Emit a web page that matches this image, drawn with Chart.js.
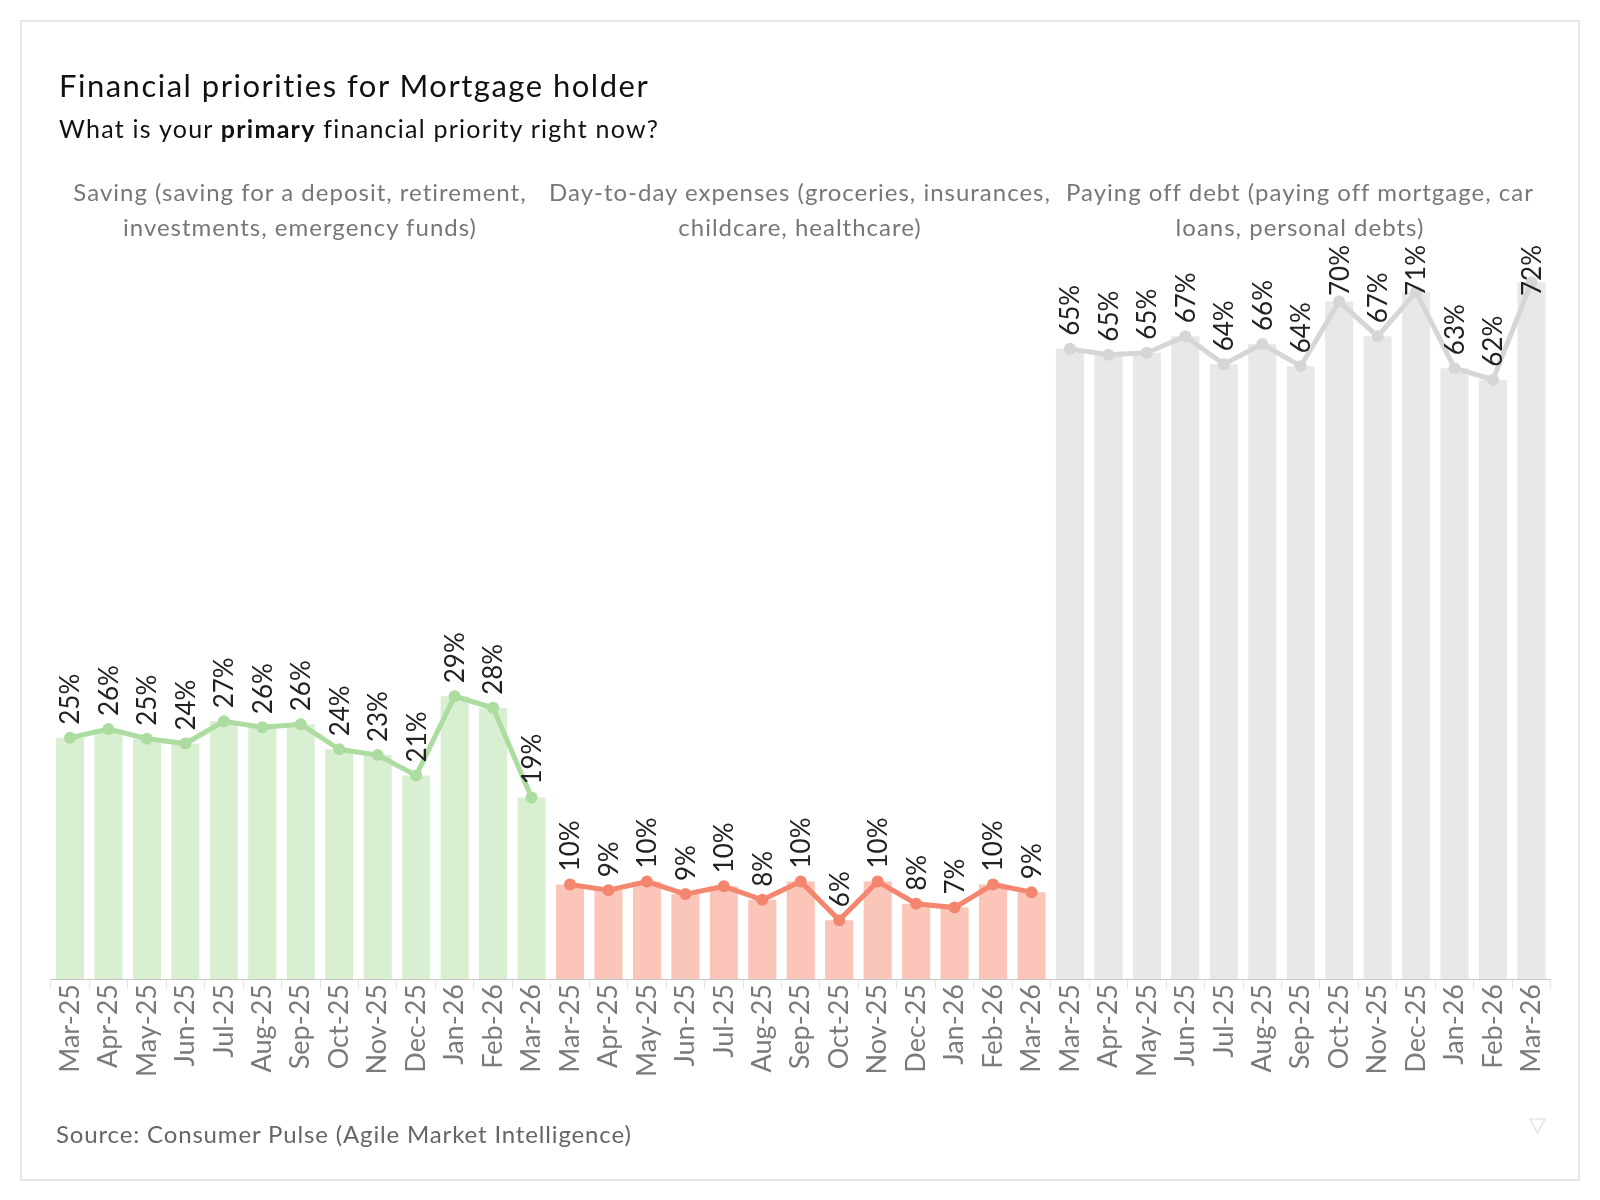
<!DOCTYPE html>
<html>
<head>
<meta charset="utf-8">
<script src="https://cdn.jsdelivr.net/npm/chart.js@4.4.1/dist/chart.umd.min.js"></script>
<style>
  html, body { margin: 0; padding: 0; background: #fff; }
  #page { position: relative; width: 1600px; height: 1200px; overflow: hidden; font-family: Lato, "Open Sans", sans-serif; }
  #frame { position: absolute; left: 20px; top: 20px; width: 1556px; height: 1157px; border: 2px solid #e6e6e6; }
  #chart-canvas { position: absolute; left: 0; top: 0; }
  .txt { position: absolute; white-space: nowrap; line-height: 1.2; }
  #title { left: 59px; top: 67px; font-size: 31px; letter-spacing: 1.5px; color: #111; }
  #subtitle { left: 59px; top: 113px; font-size: 25px; letter-spacing: 1.25px; color: #111; }
  #subtitle b { font-weight: 700; }
  .panel-head { position: absolute; top: 174px; width: 540px; text-align: center; white-space: nowrap; font-size: 24px; letter-spacing: 1px; line-height: 35px; color: #777; }
  #source { left: 56px; top: 1120px; font-size: 24px; letter-spacing: 0.85px; color: #666; }
  #tri { position: absolute; left: 1529px; top: 1118px; }
</style>
</head>
<body>
<div id="page">
  <div id="frame"></div>
  <canvas id="chart-canvas" width="1600" height="1200"></canvas>
  <div class="txt" id="title">Financial priorities for Mortgage holder</div>
  <div class="txt" id="subtitle">What is your <b>primary</b> financial priority right now?</div>
  <div class="panel-head" style="left:30px">Saving (saving for a deposit, retirement,<br>investments, emergency funds)</div>
  <div class="panel-head" style="left:530px">Day-to-day expenses (groceries, insurances,<br>childcare, healthcare)</div>
  <div class="panel-head" style="left:1030px">Paying off debt (paying off mortgage, car<br>loans, personal debts)</div>
  <div class="txt" id="source">Source: Consumer Pulse (Agile Market Intelligence)</div>
  <svg id="tri" width="17" height="16"><polygon points="1,1 16,1 8.5,15" fill="none" stroke="#dcdcdc" stroke-width="1.2"/></svg>
</div>
<script>
// Months shown in every panel
const months = ['Mar-25', 'Apr-25', 'May-25', 'Jun-25', 'Jul-25', 'Aug-25', 'Sep-25',
                'Oct-25', 'Nov-25', 'Dec-25', 'Jan-26', 'Feb-26', 'Mar-26'];

// Share of mortgage holders (%) per priority
const saving   = [25.0, 25.9, 24.9, 24.4, 26.7, 26.1, 26.4, 23.8, 23.2, 21.1, 29.3, 28.1, 18.8];
const expenses = [9.8, 9.2, 10.1, 8.8, 9.6, 8.2, 10.1, 6.1, 10.1, 7.8, 7.4, 9.8, 9.0];
const debt     = [65.3, 64.7, 64.9, 66.6, 63.7, 65.8, 63.5, 70.2, 66.6, 71.2, 63.3, 62.1, 72.2];

const series     = [saving, expenses, debt];
const barColors  = ['#d9efd2', '#fbc5b9', '#e8e8e8'];
const lineColors = ['#acdc9f', '#f4866f', '#d6d6d6'];

// Build the 39 categories (3 panels x 13 months)
let labels = [];
let barData = [];
let barBg = [];
for (let p = 0; p < series.length; p++) {
    for (let i = 0; i < months.length; i++) {
        labels.push(months[i]);
        barData.push(series[p][i]);
        barBg.push(barColors[p]);
    }
}

// One line per panel, null outside its panel so the line breaks
let datasets = [];
for (let p = 0; p < series.length; p++) {
    let d = [];
    for (let q = 0; q < series.length; q++) {
        for (let i = 0; i < months.length; i++) {
            d.push(q == p ? series[p][i] : null);
        }
    }
    datasets.push({
        type: 'line',
        data: d,
        borderColor: lineColors[p],
        backgroundColor: lineColors[p],
        borderWidth: 5,
        pointRadius: 6,
        pointHoverRadius: 6,
        pointBorderWidth: 0,
        spanGaps: false,
        tension: 0,
        order: 0
    });
}
datasets.push({
    type: 'bar',
    data: barData,
    backgroundColor: barBg,
    barPercentage: 0.73,
    categoryPercentage: 1.0,
    order: 1
});

// Rotated value labels above each point (kept below the panel headers)
const labelTopLimit = 245;
const valueLabels = {
    id: 'valueLabels',
    afterDatasetsDraw(chart) {
        const ctx = chart.ctx;
        ctx.save();
        ctx.font = '26px Lato';
        ctx.fillStyle = '#222';
        ctx.textAlign = 'left';
        ctx.textBaseline = 'middle';
        for (let p = 0; p < series.length; p++) {
            const meta = chart.getDatasetMeta(p);
            meta.data.forEach((pt, idx) => {
                const v = chart.data.datasets[p].data[idx];
                if (v === null) return;
                const text = Math.round(v) + '%';
                const w = ctx.measureText(text).width;
                let start = pt.y - 13;
                if (start - w < labelTopLimit) start = labelTopLimit + w;
                ctx.save();
                ctx.translate(pt.x, start);
                ctx.rotate(-Math.PI / 2);
                ctx.fillText(text, 0, 1);
                ctx.restore();
            });
        }
        ctx.restore();
    }
};

const ctx = document.getElementById('chart-canvas');
new Chart(ctx, {
    type: 'bar',
    data: { labels: labels, datasets: datasets },
    plugins: [valueLabels],
    options: {
        responsive: false,
        animation: false,
        devicePixelRatio: 1,
        layout: { padding: { left: 50.8, right: 49.3, top: 255.25, bottom: 111 } },
        plugins: {
            legend: { display: false },
            tooltip: { enabled: false }
        },
        scales: {
            y: { display: false, min: 0, max: 75 },
            x: {
                offset: true,
                grid: {
                    display: true,
                    drawOnChartArea: false,
                    drawTicks: true,
                    tickLength: 10,
                    offset: true,
                    color: '#e6e6e6'
                },
                border: { display: true, color: '#c8c8c8', dash: [4, 3] },
                ticks: {
                    autoSkip: false,
                    minRotation: 90,
                    maxRotation: 90,
                    padding: -5,
                    color: '#7a7a7a',
                    font: { family: 'Lato', size: 27 }
                },
                afterFit(scale) { scale.height = 110; }
            }
        }
    }
});
</script>
</body>
</html>
